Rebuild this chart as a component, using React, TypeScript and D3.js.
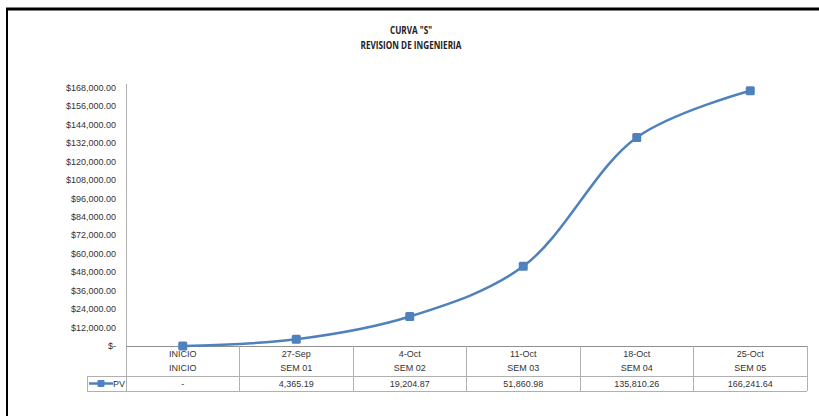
import React, { useEffect, useRef } from "react";
import * as d3 from "d3";

// Week labels (two header rows) and planned value series
const dates = ["INICIO", "27-Sep", "4-Oct", "11-Oct", "18-Oct", "25-Oct"];
const weeks = ["INICIO", "SEM 01", "SEM 02", "SEM 03", "SEM 04", "SEM 05"];
const pv = [0, 4365.19, 19204.87, 51860.98, 135810.26, 166241.64];
const yTicks = [0, 12000, 24000, 36000, 48000, 60000, 72000, 84000, 96000, 108000, 120000, 132000, 144000, 156000, 168000];
const seriesName = "PV";
const titleLines = ['CURVA "S"', "REVISION DE INGENIERIA"];

const W = 819;
const H = 416;
const BLUE = "#4F81BD";
const FONT = "'Liberation Sans', Arial, sans-serif";

export default function App() {
  const ref = useRef<SVGSVGElement | null>(null);

  useEffect(() => {
    const svg = d3.select(ref.current);
    svg.selectAll("*").remove();

    const left = 126;
    const right = 807;
    const top = 88;
    const axisY = 346;
    const row1 = 376;
    const row2 = 391;
    const legendLeft = 87;

    const x = d3.scaleBand<string>().domain(dates).range([left, right]);
    const y = d3.scaleLinear().domain([0, 168000]).range([axisY, top]);

    // frame
    svg.append("rect").attr("width", W).attr("height", H).attr("fill", "#fff");
    svg.append("line").attr("x1", 6).attr("x2", W).attr("y1", 9).attr("y2", 9)
      .attr("stroke", "#000").attr("stroke-width", 3);
    svg.append("line").attr("x1", 7).attr("x2", 7).attr("y1", 8).attr("y2", H)
      .attr("stroke", "#000").attr("stroke-width", 2);

    // title
    const title = svg.append("g").attr("font-family", "'Open Sans', sans-serif")
      .attr("font-weight", "bold").attr("font-size", 10).attr("fill", "#222")
      .attr("text-anchor", "middle");
    titleLines.forEach((t, i) => {
      title.append("text").attr("x", 411).attr("y", 34 + i * 15.5)
        .attr("transform", `translate(411,0) scale(0.82,1) translate(-411,0)`)
        .text(t);
    });

    // y axis labels
    const yAxis = svg.append("g").attr("font-family", FONT).attr("font-size", 9)
      .attr("fill", "#333").attr("text-anchor", "end");
    yTicks.forEach((v) => {
      yAxis.append("text").attr("x", 116).attr("y", y(v) + 3)
        .text(v === 0 ? "$-" : "$" + d3.format(",.2f")(v));
    });

    // axis lines and data table grid
    const grid = svg.append("g").attr("stroke", "#b0b0b0").attr("stroke-width", 1)
      .attr("shape-rendering", "crispEdges");
    grid.append("line").attr("x1", left).attr("x2", left).attr("y1", 84).attr("y2", row2);
    grid.append("line").attr("x1", left).attr("x2", right).attr("y1", axisY).attr("y2", axisY)
      .attr("stroke", "#909090");
    dates.forEach((d, i) => {
      const xe = (x(d) as number) + x.bandwidth();
      grid.append("line").attr("x1", xe).attr("x2", xe).attr("y1", axisY).attr("y2", row2);
    });
    grid.append("line").attr("x1", legendLeft).attr("x2", right).attr("y1", row1).attr("y2", row1);
    grid.append("line").attr("x1", legendLeft).attr("x2", right).attr("y1", row2).attr("y2", row2);
    grid.append("line").attr("x1", legendLeft).attr("x2", legendLeft).attr("y1", row1).attr("y2", row2);

    // table text
    const tbl = svg.append("g").attr("font-family", FONT).attr("font-size", 9)
      .attr("fill", "#333").attr("text-anchor", "middle");
    dates.forEach((d, i) => {
      const cx = (x(d) as number) + x.bandwidth() / 2;
      tbl.append("text").attr("x", cx).attr("y", 357).text(d);
      tbl.append("text").attr("x", cx).attr("y", 371).text(weeks[i]);
      tbl.append("text").attr("x", cx).attr("y", 387)
        .text(pv[i] === 0 ? "-" : d3.format(",.2f")(pv[i]));
    });

    // legend key inside the table
    const ly = (row1 + row2) / 2;
    svg.append("line").attr("x1", 89).attr("x2", 113).attr("y1", ly).attr("y2", ly)
      .attr("stroke", BLUE).attr("stroke-width", 2.5);
    svg.append("rect").attr("x", 97.5).attr("y", ly - 3.5).attr("width", 7).attr("height", 7)
      .attr("rx", 1.2).attr("fill", BLUE);
    svg.append("text").attr("x", 113).attr("y", ly + 3).attr("font-family", FONT)
      .attr("font-size", 9).attr("fill", "#333").text(seriesName);

    // smoothed S-curve
    const pts: [number, number][] = pv.map((v, i) => [
      (x(dates[i]) as number) + x.bandwidth() / 2,
      y(v),
    ]);
    const line = d3.line().curve(d3.curveCatmullRom.alpha(0.5));
    svg.append("path").attr("d", line(pts) as string).attr("fill", "none")
      .attr("stroke", BLUE).attr("stroke-width", 2.5).attr("stroke-linecap", "round");
    svg.selectAll("rect.mk").data(pts).enter().append("rect").attr("class", "mk")
      .attr("x", (d) => d[0] - 4.5).attr("y", (d) => d[1] - 4.5)
      .attr("width", 9).attr("height", 9).attr("rx", 1.5).attr("fill", BLUE);
  }, []);

  return (
    <svg
      ref={ref}
      width={W}
      height={H}
      style={{ position: "absolute", left: 0, top: 0, display: "block" }}
    />
  );
}
